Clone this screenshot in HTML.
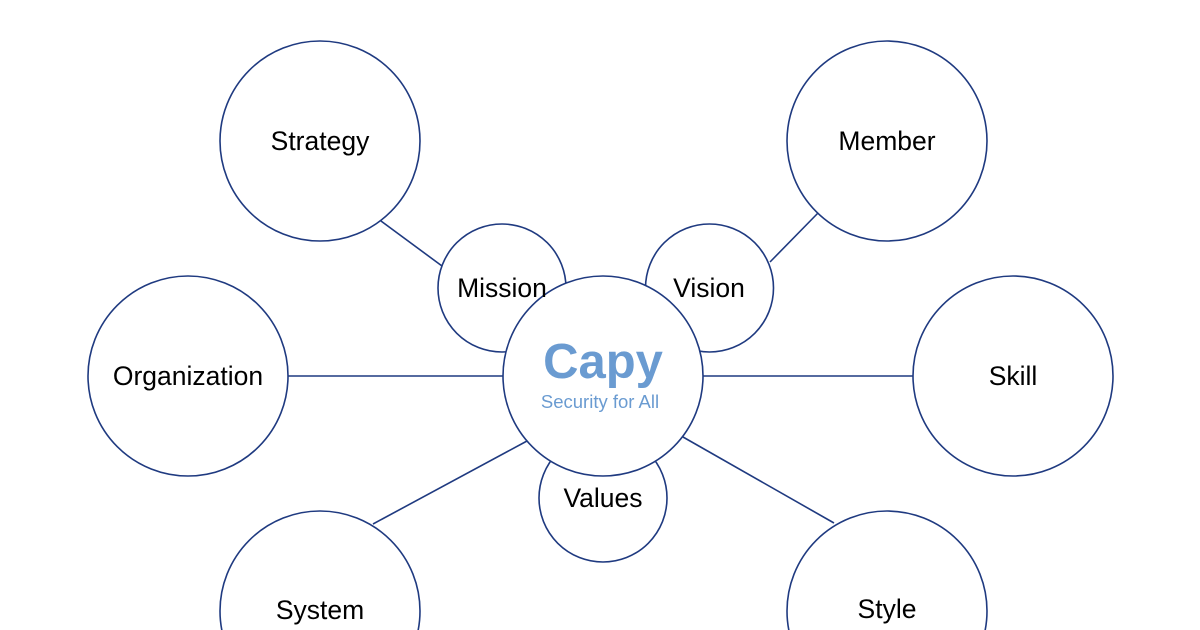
<!DOCTYPE html>
<html><head><meta charset="utf-8"><style>
html,body{margin:0;padding:0;background:#fff;width:1200px;height:630px;overflow:hidden}
svg{display:block}
text{font-family:"Liberation Sans",Arial,sans-serif}
</style></head><body>
<svg width="1200" height="630" viewBox="0 0 1200 630">
<g stroke="#1f3a80" stroke-width="1.6" fill="#fff">
<line x1="381" y1="221" x2="442" y2="266"/>
<line x1="818" y1="213" x2="770" y2="262"/>
<line x1="288" y1="376" x2="503" y2="376"/>
<line x1="703" y1="376" x2="913" y2="376"/>
<line x1="373" y1="524" x2="527" y2="441"/>
<line x1="683" y1="437" x2="834" y2="523"/>
<circle cx="320" cy="141" r="100"/>
<circle cx="887" cy="141" r="100"/>
<circle cx="188" cy="376" r="100"/>
<circle cx="1013" cy="376" r="100"/>
<circle cx="320" cy="611" r="100"/>
<circle cx="887" cy="611" r="100"/>
<circle cx="502" cy="288" r="64"/>
<circle cx="709.5" cy="288" r="64"/>
<circle cx="603" cy="498" r="64"/>
<circle cx="603" cy="376" r="100"/>
</g>
<g fill="#000" font-size="26.5" text-anchor="middle">
<text x="320" y="150">Strategy</text>
<text x="887" y="150">Member</text>
<text x="188" y="385">Organization</text>
<text x="1013" y="385">Skill</text>
<text x="320" y="619">System</text>
<text x="887" y="618">Style</text>
<text x="502" y="297">Mission</text>
<text x="709" y="297">Vision</text>
<text x="603" y="507">Values</text>
</g>
<text x="603" y="378" text-anchor="middle" font-size="49" font-weight="bold" fill="#6a9bd1">Capy</text>
<text x="600" y="408" text-anchor="middle" font-size="18.5" fill="#6a9bd1">Security for All</text>
</svg>
</body></html>
